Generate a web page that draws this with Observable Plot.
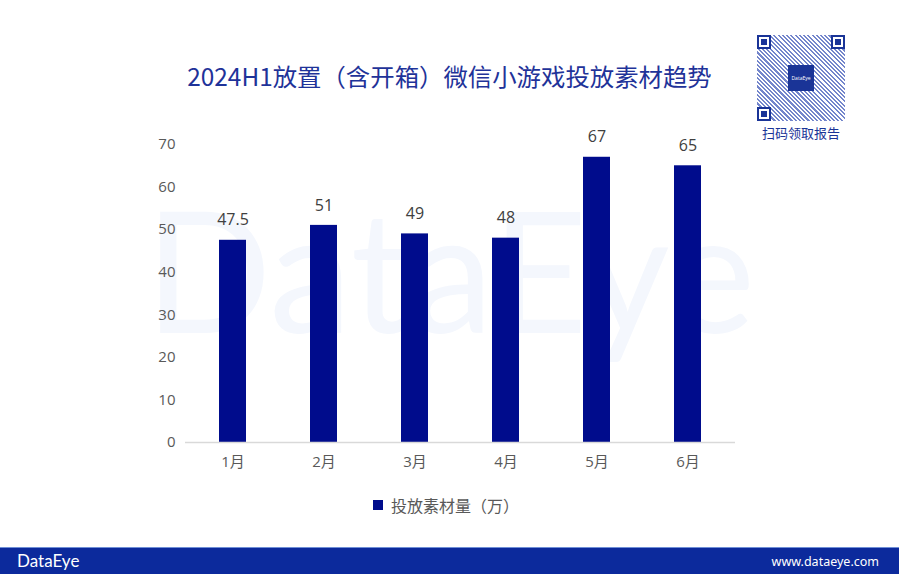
<!DOCTYPE html>
<html><head><meta charset="utf-8">
<script src="https://cdn.jsdelivr.net/npm/d3@7"></script>
<script src="https://cdn.jsdelivr.net/npm/@observablehq/plot@0.6"></script>
<style>
html,body{margin:0;padding:0;background:#fff;}
#wrap{position:relative;width:899px;height:574px;overflow:hidden;font-family:"Open Sans","Noto Sans CJK SC",sans-serif;}
#wm{position:absolute;left:0;top:0;}
#title{position:absolute;left:0;width:899px;top:58px;text-align:center;font-family:"Noto Sans CJK SC",sans-serif;font-size:24.4px;color:#1f3399;white-space:nowrap;}
#qr{position:absolute;left:757px;top:35px;width:88px;height:86px;
 background:repeating-linear-gradient(45deg,#7486cc 0 1.5px,#fff 1.5px 3px),#fff;}
.fp{position:absolute;width:10px;height:10px;border:2px solid #1a3497;background:#fff;}
.fp::after{content:"";position:absolute;left:2px;top:2px;width:6px;height:6px;background:#1a3497;}
#qrlogo{position:absolute;left:31px;top:30px;width:26px;height:26px;background:#1a3497;color:#fff;font-size:5px;display:flex;align-items:center;justify-content:center;}
#qrt{position:absolute;left:750px;top:123px;width:102px;text-align:center;font-family:"Noto Sans CJK SC",sans-serif;font-size:13px;color:#1a3497;}
#plot{position:absolute;left:0;top:0;}
#legend{position:absolute;left:373px;top:493px;font-family:"Noto Sans CJK SC",sans-serif;font-size:16px;color:#595959;display:flex;align-items:center;}
#legend span.sw{display:inline-block;width:10px;height:10px;background:#000c8c;margin-right:8px;}
#footer{position:absolute;left:0;top:547px;width:899px;height:27px;background:#0c2a9c;border-top:1px solid #6f8fd6;}
#footer .l{position:absolute;left:17px;top:2px;color:#fff;font-family:"Lato","Noto Sans",sans-serif;font-size:17px;font-weight:400;}
#footer .r{position:absolute;right:20px;top:5px;color:#fff;font-family:"Noto Sans",sans-serif;font-size:12.5px;}
</style></head>
<body><div id="wrap">
<svg id="wm" width="899" height="574"><text x="145" y="333" textLength="610" lengthAdjust="spacingAndGlyphs" font-family="Lato, Noto Sans, sans-serif" font-weight="400" font-size="168" fill="#f4f7fd">DataEye</text></svg>
<div id="title">2024H1放置（含开箱）微信小游戏投放素材趋势</div>
<div id="qr"><div class="fp" style="left:0;top:0"></div><div class="fp" style="right:0;top:0"></div><div class="fp" style="left:0;bottom:0"></div><div id="qrlogo">DataEye</div></div>
<div id="qrt">扫码领取报告</div>
<div id="plot"></div>
<div id="legend"><span class="sw"></span>投放素材量（万）</div>
<div id="footer"><span class="l">DataEye</span><span class="r">www.dataeye.com</span></div>
</div>
<script>
const months = ["1月","2月","3月","4月","5月","6月"];
const values = [47.5, 51, 49, 48, 67, 65];
const labels = ["47.5","51","49","48","67","65"];
const yTicks = [0,10,20,30,40,50,60,70];
const data = months.map((m,i)=>({month:m, value:values[i], label:labels[i]}));

const chart = Plot.plot({
  width: 899, height: 574,
  marginLeft: 185, marginRight: 164, marginTop: 144, marginBottom: 132,
  style: {background:"transparent", fontFamily:'"Open Sans","Noto Sans CJK SC",sans-serif', fontSize:"15px", color:"#595959"},
  x: {domain: months, paddingInner: 0.705, paddingOuter: 0.35, label: null},
  y: {domain: [0,70], ticks: yTicks, label: null},
  marks: [
    Plot.barY(data, {x:"month", y:"value", fill:"#000c8c"}),
    Plot.ruleY([0], {stroke:"#d9d9d9", strokeWidth:1.5}),
    Plot.text(data, {x:"month", y:"value", text:"label", dy:-20, fill:"#404040", fontSize:16}),
    Plot.axisX({tickSize:0, tickPadding:14, fill:"#595959", fontSize:15, label:null}),
    Plot.axisY({ticks:yTicks, tickSize:0, tickPadding:10, fill:"#595959", fontSize:15, label:null})
  ]
});
document.getElementById("plot").appendChild(chart);
</script>
</body></html>
